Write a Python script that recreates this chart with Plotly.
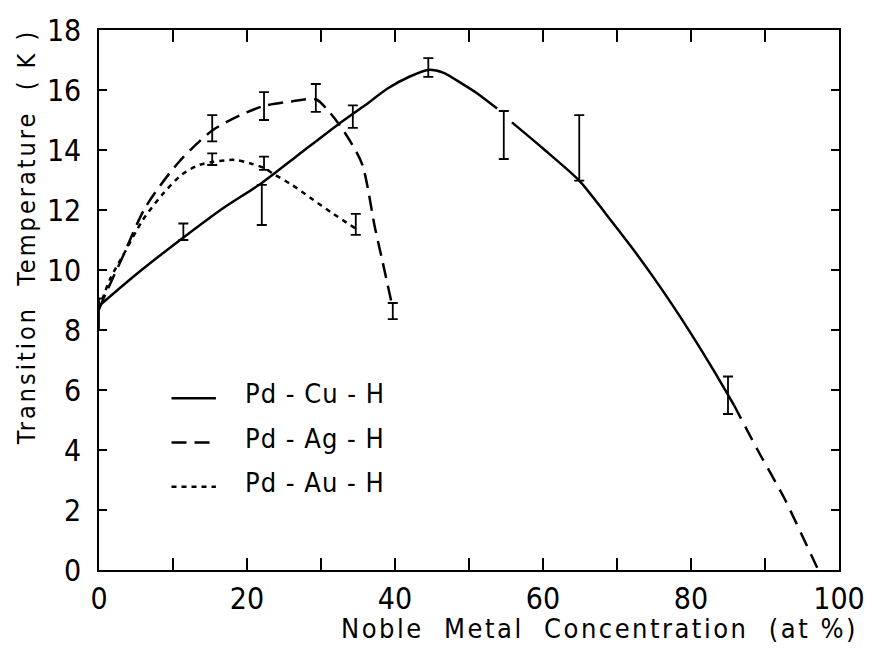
import plotly.graph_objects as go

# ---------------- data ----------------
# Pd-Cu-H fitted curve (solid part, broken at the 55 % error bar)
cu_x1 = [0, 5, 11.5, 17, 22, 27, 32.4, 36, 39, 42, 44.5, 46.5, 49, 51.5, 53.8]
cu_y1 = [8.8, 9.85, 11.1, 12.1, 12.9, 13.85, 14.87, 15.5, 16.05, 16.45, 16.67, 16.58, 16.22, 15.82, 15.38]
cu_x2 = [55.8, 60, 64.9, 68.5, 72, 75, 77.5, 80, 83, 85.8]
cu_y2 = [14.92, 14.05, 12.98, 11.87, 10.75, 9.73, 8.83, 7.88, 6.68, 5.5]
# Pd-Cu-H extrapolation (dashed)
cu_x3 = [85.8, 89, 92.6, 97.2]
cu_y3 = [5.5, 4.0, 2.4, 0.0]

# Pd-Ag-H curve
ag_x = [0, 1, 3, 6.3, 10.8, 15.3, 19, 22.3, 26, 29.3, 31, 32.4, 34, 35.6, 37.3, 38.3, 39.5]
ag_y = [8.7, 9.26, 10.33, 12.1, 13.6, 14.65, 15.15, 15.47, 15.62, 15.69, 15.3, 14.87, 14.27, 13.5, 11.4, 10.3, 8.95]

# Pd-Au-H curve
au_x = [0, 1.5, 3.5, 5.9, 8.5, 11.2, 13.5, 15.3, 18.3, 20.5, 22.3, 23.6, 26, 28.5, 31.5, 34.7]
au_y = [8.7, 9.7, 10.6, 11.66, 12.5, 13.18, 13.5, 13.6, 13.67, 13.55, 13.4, 13.2, 12.85, 12.42, 11.9, 11.38]

# error bars (low / high ends)
cu_ex = [0, 11.4, 22.0, 34.3, 44.5, 54.7, 64.9, 85.0]
cu_lo = [8.0, 11.0, 11.5, 14.74, 16.44, 13.7, 12.98, 5.2]
cu_hi = [9.05, 11.55, 12.84, 15.49, 17.06, 15.3, 15.16, 6.45]

ag_ex = [15.3, 22.3, 29.3, 39.7]
ag_lo = [14.29, 15.0, 15.27, 8.36]
ag_hi = [15.16, 15.93, 16.2, 8.9]

au_ex = [15.3, 22.3, 34.7]
au_lo = [13.5, 13.34, 11.17]
au_hi = [13.89, 13.78, 11.87]

x_tickvals = [0, 10, 20, 30, 40, 50, 60, 70, 80, 90, 100]
x_ticktext = ["0", "", "20", "", "40", "", "60", "", "80", "", "100"]
y_tickvals = [0, 2, 4, 6, 8, 10, 12, 14, 16, 18]

series_names = ["Pd - Cu - H", "Pd - Ag - H", "Pd - Au - H"]

# ---------------- figure ----------------
FONT = "DejaVu Sans Condensed, Liberation Sans Narrow, DejaVu Sans, sans-serif"
LW = 2.5

fig = go.Figure()

fig.add_trace(go.Scatter(x=cu_x1, y=cu_y1, mode="lines", name=series_names[0],
                         line=dict(color="black", width=LW, shape="spline", smoothing=0.7)))
fig.add_trace(go.Scatter(x=cu_x2, y=cu_y2, mode="lines", showlegend=False,
                         line=dict(color="black", width=LW, shape="spline", smoothing=0.7)))
fig.add_trace(go.Scatter(x=cu_x3, y=cu_y3, mode="lines", showlegend=False,
                         line=dict(color="black", width=LW, dash="15px,9px", shape="spline", smoothing=0.5)))
fig.add_trace(go.Scatter(x=ag_x, y=ag_y, mode="lines", name=series_names[1],
                         line=dict(color="black", width=LW, dash="15px,8px", shape="spline", smoothing=0.8)))
fig.add_trace(go.Scatter(x=au_x, y=au_y, mode="lines", name=series_names[2],
                         line=dict(color="black", width=LW, dash="5px,5px", shape="spline", smoothing=0.8)))


def add_err(xs, lo, hi):
    mid = [(a + b) / 2 for a, b in zip(lo, hi)]
    half = [(b - a) / 2 for a, b in zip(lo, hi)]
    fig.add_trace(go.Scatter(x=xs, y=mid, mode="markers", showlegend=False,
                             marker=dict(size=1, color="rgba(0,0,0,0)"),
                             error_y=dict(type="data", array=half, symmetric=True,
                                          color="black", thickness=1.8, width=5)))


add_err(cu_ex, cu_lo, cu_hi)
add_err(ag_ex, ag_lo, ag_hi)
add_err(au_ex, au_lo, au_hi)

# ---------------- custom legend ----------------
leg_rows_y = [0.326, 0.244, 0.162]   # paper coords
leg_dash = ["solid", "15px,8px", "5px,5px"]
for name, yy, dsh in zip(series_names, leg_rows_y, leg_dash):
    fig.add_shape(type="line", xref="paper", yref="paper",
                  x0=0.098, x1=0.158, y0=yy - 0.008, y1=yy - 0.008,
                  line=dict(color="black", width=LW, dash=dsh))
    fig.add_annotation(xref="paper", yref="paper", x=0.195, y=yy,
                       xanchor="left", yanchor="middle", showarrow=False,
                       text='<span style="letter-spacing:1px">' + name.replace(" ", "\u00a0") + '</span>',
                       font=dict(family=FONT, size=27, color="black"))

# axis titles as annotations
fig.add_annotation(xref="paper", yref="paper", x=0.324, y=-0.1416,
                   xanchor="left", yanchor="bottom", showarrow=False,
                   text='<span style="letter-spacing:2.5px">Noble\u00a0\u00a0Metal\u00a0\u00a0Concentration\u00a0\u00a0(at\u00a0%)</span>',
                   font=dict(family=FONT, size=27, color="black"))
fig.add_annotation(xref="paper", yref="paper", x=-0.098, y=0.617,
                   xanchor="center", yanchor="middle", showarrow=False, textangle=-90,
                   text='<span style="letter-spacing:3px">Transition\u00a0\u00a0Temperature\u00a0\u00a0(\u00a0K\u00a0)</span>',
                   font=dict(family=FONT, size=25, color="black"))

axis_common = dict(showgrid=False, zeroline=False, showline=True, linecolor="black",
                   linewidth=1.5, mirror="ticks", ticks="inside", tickwidth=1.5,
                   tickcolor="black", tickfont=dict(family=FONT, size=30, color="black"))

fig.update_xaxes(range=[0, 100], tickvals=x_tickvals, ticktext=x_ticktext, ticklen=12,
                 ticklabelstandoff=1, **axis_common)
fig.update_yaxes(range=[0, 18], tickvals=y_tickvals, ticklen=8,
                 ticklabelstandoff=10, **axis_common)

fig.update_layout(width=877, height=649,
                  margin=dict(l=99, r=26, t=19, b=79),
                  plot_bgcolor="white", paper_bgcolor="white",
                  showlegend=False)

fig.write_html("out.html")
